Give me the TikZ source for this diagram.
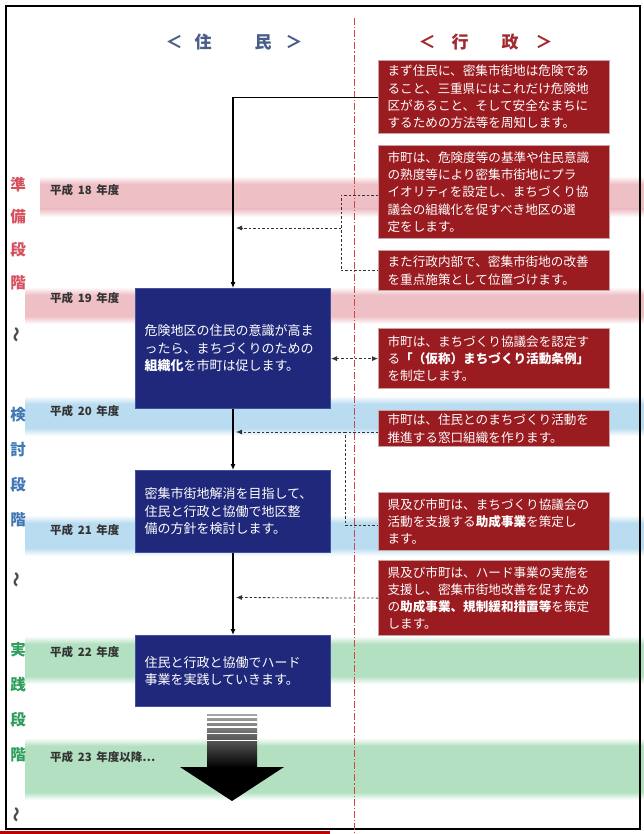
\documentclass[tikz,border=0pt]{standalone}
\usepackage{fontspec}
\newfontfamily\cjk{Noto Sans CJK JP}
\usetikzlibrary{arrows.meta,calc}
\definecolor{admred}{HTML}{9A1B20}
\definecolor{admedge}{HTML}{C9A3A3}
\definecolor{resblue}{HTML}{1F287A}
\definecolor{resedge}{HTML}{4250A0}
\definecolor{hdblue}{HTML}{4A5C88}
\definecolor{hdred}{HTML}{A02A2E}
\definecolor{stgred}{HTML}{D6505E}
\definecolor{stgblue}{HTML}{3F78B5}
\definecolor{stggreen}{HTML}{2F9E5C}
\definecolor{bandpink}{HTML}{EEBFC5}
\definecolor{bandblue}{HTML}{BADCF0}
\definecolor{bandgreen}{HTML}{B3E0C0}
\definecolor{dashred}{HTML}{D04545}
\newcommand\bandfill[4]{%
  \shade[top color=white, bottom color=#4] (#1,#2) rectangle (644,#2+8);
  \fill[#4] (#1,#2+8) rectangle (644,#3-8);
  \shade[top color=#4, bottom color=white] (#1,#3-8) rectangle (644,#3);}
\begin{document}
\begin{tikzpicture}[x=1pt,y=-1pt,
  redbox/.style={anchor=north west, fill=admred, draw=admedge, line width=1.2pt, text=white,
    font=\cjk\fontsize{12.6}{17.3}\selectfont, align=left, minimum width=231pt,
    text width=213pt, inner xsep=9pt, inner ysep=2pt},
  bluebox/.style={anchor=north west, fill=resblue, draw=resedge, line width=1pt, text=white,
    font=\cjk\fontsize{13}{17.5}\selectfont, align=left, minimum width=195pt,
    text width=177pt, inner xsep=9pt, inner ysep=2pt},
  flow/.style={draw=black, line width=1.1pt, -{Latex[length=6pt,width=5pt]}},
  dlink/.style={draw=black!80, line width=0.8pt, dash pattern=on 2.5pt off 2pt},
  darrow/.style={dlink, -{Latex[length=6pt,width=5pt]}},
  dboth/.style={dlink, {Latex[length=6pt,width=5pt]}-{Latex[length=6pt,width=5pt]}},
  yearlbl/.style={anchor=west, font=\cjk\bfseries\fontsize{11.5}{12}\selectfont, text=black!80, inner sep=0pt},
  stg/.style={font=\cjk\bfseries\fontsize{15.5}{16}\selectfont, inner sep=0pt},
  hdr/.style={font=\cjk\bfseries\fontsize{17}{17}\selectfont, inner sep=0pt}
]
\useasboundingbox (0,0) rectangle (644,834);
\fill[white] (0,0) rectangle (644,834);

% bands
\bandfill{40}{176}{217}{bandpink}
\bandfill{25}{287}{324}{bandpink}
\bandfill{25}{396}{436}{bandblue}
\bandfill{25}{515}{556}{bandblue}
\bandfill{25}{636}{684}{bandgreen}
\bandfill{25}{738}{800}{bandgreen}

% frame
\draw[black, line width=1.5pt] (6,6) rectangle (640,829);
\draw[red!75!black, line width=2.5pt] (0,832.5) -- (330,832.5);

% red dash-dot column divider
\draw[dashred, line width=0.8pt, dash pattern=on 7pt off 2pt on 1.2pt off 2pt] (354,18) -- (354,834);

% headers
\node[hdr, text=hdblue] (h1a) at (174,42) {＜};
\node[hdr, text=hdblue] (h1b) at (203,42) {住};
\node[hdr, text=hdblue] (h1c) at (263,42) {民};
\node[hdr, text=hdblue] (h1d) at (294,42) {＞};
\node[hdr, text=hdred] (h2a) at (427,42) {＜};
\node[hdr, text=hdred] (h2b) at (460,42) {行};
\node[hdr, text=hdred] (h2c) at (510,42) {政};
\node[hdr, text=hdred] (h2d) at (544,42) {＞};

% stage labels
\node[stg, text=stgred] (s1a) at (18,185) {準};
\node[stg, text=stgred] (s1b) at (18,217) {備};
\node[stg, text=stgred] (s1c) at (18,250) {段};
\node[stg, text=stgred] (s1d) at (18,283) {階};
\node[stg, text=black!70, rotate=90] (s1e) at (18,335) {～};
\node[stg, text=stgblue] (s2a) at (18,415) {検};
\node[stg, text=stgblue] (s2b) at (18,450) {討};
\node[stg, text=stgblue] (s2c) at (18,485) {段};
\node[stg, text=stgblue] (s2d) at (18,520) {階};
\node[stg, text=black!70, rotate=90] (s2e) at (18,580) {～};
\node[stg, text=stggreen] (s3a) at (18,650) {実};
\node[stg, text=stggreen] (s3b) at (18,685) {践};
\node[stg, text=stggreen] (s3c) at (18,720) {段};
\node[stg, text=stggreen] (s3d) at (18,755) {階};
\node[stg, text=black!70, rotate=90] (s3e) at (18,815) {～};

% year labels
\node[yearlbl] (y18) at (50,190) {平成\hspace{0.4em}18\hspace{0.4em}年度};
\node[yearlbl] (y19) at (50,298) {平成\hspace{0.4em}19\hspace{0.4em}年度};
\node[yearlbl] (y20) at (50,411) {平成\hspace{0.4em}20\hspace{0.4em}年度};
\node[yearlbl] (y21) at (50,530) {平成\hspace{0.4em}21\hspace{0.4em}年度};
\node[yearlbl] (y22) at (50,652) {平成\hspace{0.4em}22\hspace{0.4em}年度};
\node[yearlbl] (y23) at (50,757) {平成\hspace{0.4em}23\hspace{0.4em}年度以降…};

% administration boxes
\node[redbox, minimum height=73pt] (r1) at (378,60) {まず住民に、密集市街地は危険であ\\ること、三重県にはこれだけ危険地\\区があること、そして安全なまちに\\するための方法等を周知します。};
\node[redbox, minimum height=93pt] (r2) at (378,145) {市町は、危険度等の基準や住民意識\\の熟度等により密集市街地にプラ\\イオリティを設定し、まちづくり協\\議会の組織化を促すべき地区の選\\定をします。};
\node[redbox, minimum height=40pt] (r3) at (378,250) {また行政内部で、密集市街地の改善\\を重点施策として位置づけます。};
\node[redbox, minimum height=60pt] (r4) at (378,328) {市町は、まちづくり協議会を認定す\\る{\bfseries「（仮称）まちづくり活動条例」}\\を制定します。};
\node[redbox, minimum height=36pt] (r5) at (378,410) {市町は、住民とのまちづくり活動を\\推進する窓口組織を作ります。};
\node[redbox, minimum height=58pt] (r6) at (378,492) {県及び市町は、まちづくり協議会の\\活動を支援する{\bfseries 助成事業}を策定し\\ます。};
\node[redbox, minimum height=75pt] (r7) at (378,560) {県及び市町は、ハード事業の実施を\\支援し、密集市街地改善を促すため\\の{\bfseries 助成事業、規制緩和措置等}を策定\\します。};

% residents boxes
\node[bluebox, minimum height=120pt] (b1) at (135,288) {危険地区の住民の意識が高ま\\ったら、まちづくりのための\\{\bfseries 組織化}を市町は促します。};
\node[bluebox, minimum height=82pt] (b2) at (135,470) {密集市街地解消を目指して、\\住民と行政と協働で地区整\\備の方針を検討します。};
\node[bluebox, minimum height=71pt] (b3) at (135,635) {住民と行政と協働でハード\\事業を実践していきます。};

% main flow
\draw[flow] (r1.west) -| (b1.north);
\draw[flow] (b1.south) -- (b2.north);
\draw[flow] (b2.south) -- (b3.north);

% dashed links
\coordinate (k1a) at (341,195);
\coordinate (k1m) at (341,228);
\coordinate (t1) at (236,228);
\draw[dlink] (r2.west |- k1a) -- (k1a) -- (k1a |- r3.west) -- (r3.west);
\draw[darrow] (k1m) -- (t1);

\draw[dboth] (b1.east |- r4.west) -- (r4.west);

\coordinate (k2a) at (345,432);
\coordinate (k2b) at (345,525);
\coordinate (t2) at (236,432);
\draw[dlink] (r5.west |- k2a) -- (k2a) -- (k2b) -- (r6.west |- k2b);
\draw[darrow] (k2a) -- (t2);

\coordinate (t3) at (236,597.5);
\draw[darrow] (r7.west) -- (t3);

% big downward arrow
\shade[top color=black!35, bottom color=black] (207,714) rectangle (257,768);
\foreach \yy/\w in {717/2.2, 722/1.8, 727/1.4, 733/1.0, 740/0.6}
  \draw[white, line width=\w pt] (207,\yy) -- (257,\yy);
\fill[black] (180,767) -- (284,767) -- (232,801) -- cycle;
\end{tikzpicture}
\end{document}
